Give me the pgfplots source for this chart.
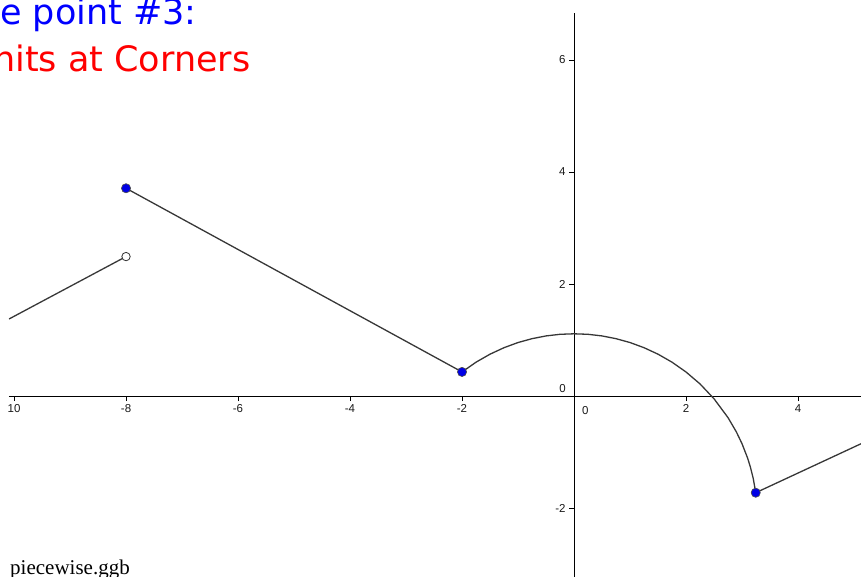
\documentclass[border=0pt]{standalone}
\usepackage{fontspec}
\setmainfont{Liberation Sans}
\newfontfamily\titlefont{DejaVu Sans}
\newfontfamily\serifnote{Liberation Serif}
\usepackage{pgfplots}
\pgfplotsset{compat=1.18}
\definecolor{ggblue}{RGB}{0,0,230}
\definecolor{ggline}{RGB}{55,55,55}

\begin{document}
\begin{tikzpicture}[x=1pt,y=1pt]
\useasboundingbox (0,0) rectangle (861,577);
\begin{axis}[
  anchor=south west, at={(9pt,0pt)},
  scale only axis, width=852pt, height=564pt,
  xmin=-10.09, xmax=5.125, ymin=-3.232, ymax=6.84,
  axis lines=middle, axis line style={-, black, line width=1pt},
  xtick={-10,-8,-6,-4,-2,2,4},
  xticklabels={10,-8,-6,-4,-2,2,4},
  ytick={-2,2,4,6},
  yticklabels={-2,2,4,6},
  tick align=outside, major tick length=5pt,
  tick style={black, line width=0.7pt},
  ticklabel style={font=\fontsize{11.5}{13}\selectfont, text=black!90},
  /pgf/number format/assume math mode=true,
  clip=true,
]
\addplot[ggline, line width=1.3pt] coordinates {(-10.09,1.375) (-8,2.49)};
\addplot[ggline, line width=1.3pt] coordinates {(-8,3.71) (-2,0.43)};
\addplot[ggline, line width=1.3pt] coordinates {
(-2,0.429) (-1.75,0.604) (-1.5,0.747) (-1.25,0.863) (-1,0.955) (-0.75,1.024)
(-0.5,1.073) (-0.25,1.102) (0,1.111) (0.25,1.102) (0.5,1.073) (0.75,1.024)
(1,0.955) (1.25,0.863) (1.5,0.747) (1.75,0.604) (2,0.429) (2.25,0.216)
(2.5,-0.049) (2.75,-0.386) (2.9,-0.643) (3.0,-0.852) (3.1,-1.109)
(3.15,-1.270) (3.2,-1.470) (3.245,-1.727)};
\addplot[ggline, line width=1.3pt] coordinates {(3.245,-1.727) (5.3,-0.771)};
\addplot[only marks, mark=*, mark size=4.6pt, mark options={fill=ggblue, draw=black!70, line width=0.6pt}]
  coordinates {(-8,3.71) (-2,0.43) (3.245,-1.727)};
\addplot[only marks, mark=*, mark size=4.2pt, mark options={fill=white, draw=black!80, line width=0.8pt}]
  coordinates {(-8,2.49)};
\node[anchor=north west, inner sep=0, font=\fontsize{11.5}{13}\selectfont, text=black!90, xshift=8pt, yshift=-10pt] at (axis cs:0,0) {0};
\node[anchor=south east, inner sep=0, font=\fontsize{11.5}{13}\selectfont, text=black!90, xshift=-8pt, yshift=3pt] at (axis cs:0,0) {0};
\end{axis}
\node[anchor=base west, inner sep=0, text=blue, font=\titlefont\fontsize{35}{40}\selectfont] at (0,552) {e point \#3:};
\node[anchor=base west, inner sep=0, text=red, font=\titlefont\fontsize{35}{40}\selectfont] at (-7,505) {nits at Corners};
\node[anchor=base west, inner sep=0, font=\serifnote\fontsize{21}{24}\selectfont] at (10,2.5) {piecewise.ggb};
\end{tikzpicture}
\end{document}
